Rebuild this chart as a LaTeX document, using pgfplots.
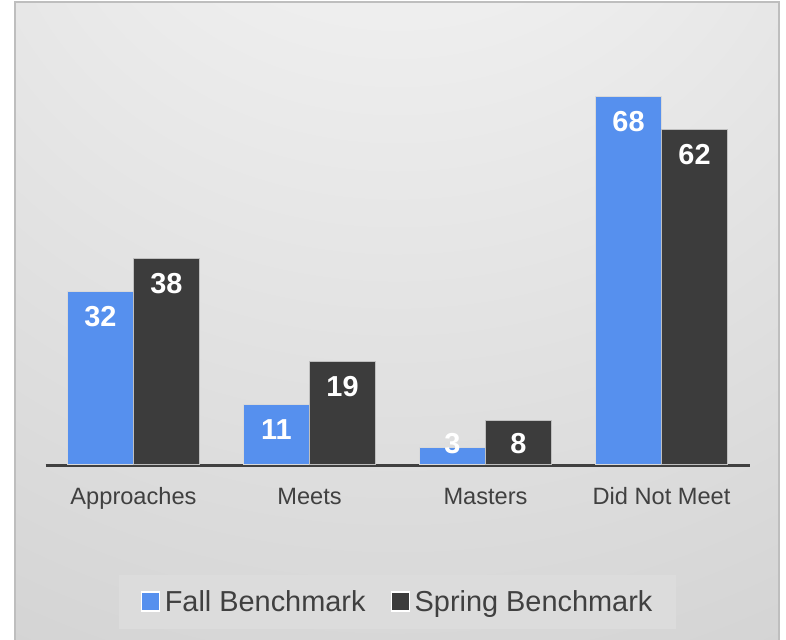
\documentclass[border=0pt]{standalone}
\usepackage{pgfplots}
\pgfplotsset{compat=1.18}
\usepackage{fontspec}
\setmainfont{Liberation Sans}
\definecolor{fallblue}{HTML}{5690EE}
\definecolor{springdark}{HTML}{3C3C3C}
\definecolor{txt}{HTML}{404040}
\definecolor{legbg}{HTML}{DCDCDC}
\definecolor{framecol}{HTML}{BEBEBE}
\pgfdeclareradialshading{bgshade}{\pgfpoint{0bp}{50bp}}{color(0bp)=(white!98!black); color(27bp)=(white!90.5!black); color(53bp)=(white!83!black); color(73bp)=(white!79!black); color(90bp)=(white!77!black)}

\begin{document}
\begin{tikzpicture}[x=1bp,y=1bp]
\path[use as bounding box] (0,0) rectangle (786,640);
\fill[white] (0,0) rectangle (786,640);
\shade[shading=bgshade] (15,-2) rectangle (779,638);
\draw[framecol, line width=1.5bp] (15,-2) -- (15,638) -- (779,638) -- (779,-2);
\begin{axis}[
  at={(45.5bp,176bp)}, anchor=south west,
  width=704bp, height=432bp, scale only axis,
  xmin=-0.5, xmax=3.5, ymin=0, ymax=80,
  ybar=0pt, bar width=66bp,
  axis x line*=bottom, axis y line=none,
  x axis line style={-, line width=3bp, draw=txt, yshift=-2bp},
  xtick={0,1,2,3},
  xticklabels={Approaches,Meets,Masters,Did Not Meet},
  major tick length=0pt, ytick=\empty,
  xticklabel style={font=\fontsize{23.7}{28}\selectfont, text=txt, anchor=base, yshift=-40.5bp},
  clip=false,
  /pgf/number format/assume math mode=true,
  nodes near coords={\fontsize{29}{34}\selectfont\bfseries\color{white}\pgfmathprintnumber{\pgfplotspointmeta}},
  visualization depends on=rawy \as \rawy,
  legend style={at={(0.5,-0.3194)}, anchor=center, fill=legbg, draw=none,
     font=\fontsize{29}{34}\selectfont, text=txt, inner xsep=22bp, inner ysep=13.5bp,
     /tikz/every odd column/.append style={column sep=3bp},
     /tikz/every even column/.append style={column sep=23bp}},
  legend columns=2,
  legend image code/.code={\draw[#1, draw=white, line width=1.2bp] (0bp,-9bp) rectangle (18bp,10bp);},
]
\addplot[fill=fallblue, draw=white!85!black, line width=0.8bp,
  nodes near coords style={anchor=north, yshift={(-11.3+max(0,46-5.4*\rawy))*1bp}}] coordinates {(0,32) (1,11) (2,3) (3,68)};
\addplot[fill=springdark, draw=white!75!black, line width=0.8bp,
  nodes near coords style={anchor=north, yshift={(-11.3+max(0,46-5.4*\rawy))*1bp}}] coordinates {(0,38) (1,19) (2,8) (3,62)};
\legend{Fall Benchmark, Spring Benchmark}
\end{axis}
\end{tikzpicture}
\end{document}
